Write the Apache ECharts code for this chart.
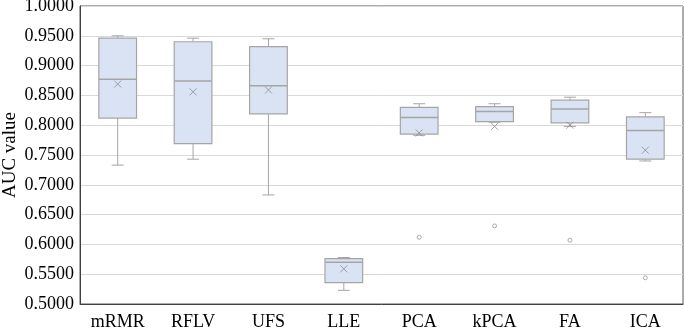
<!DOCTYPE html>
<html>
<head>
<meta charset="utf-8">
<script src="https://cdn.jsdelivr.net/npm/echarts@6/dist/echarts.min.js"></script>
<style>
  html, body { margin: 0; padding: 0; background: #fff; }
  #chart { width: 685px; height: 328px; }
</style>
</head>
<body>
<div id="chart"></div>
<script>
// categories and box statistics
const categories = ['mRMR', 'RFLV', 'UFS', 'LLE', 'PCA', 'kPCA', 'FA', 'ICA'];
const whiskerLow = [0.733, 0.743, 0.683, 0.523, 0.783, 0.805, 0.798, 0.740];
const q1 = [0.812, 0.769, 0.819, 0.536, 0.785, 0.806, 0.804, 0.743];
const median = [0.877, 0.874, 0.866, 0.570, 0.813, 0.823, 0.827, 0.791];
const q3 = [0.946, 0.940, 0.932, 0.576, 0.830, 0.831, 0.842, 0.814];
const whiskerHigh = [0.950, 0.946, 0.945, 0.578, 0.836, 0.836, 0.847, 0.821];
const means = [0.869, 0.856, 0.859, 0.559, 0.787, 0.798, 0.800, 0.758];
// outliers: [category index, value]
const outliers = [[4, 0.612], [5, 0.631], [6, 0.607], [7, 0.544]];

const boxColor = '#dae3f3';
const lineColor = '#a5a5a5';

const boxData = categories.map((c, i) => [i, whiskerLow[i], q1[i], median[i], q3[i], whiskerHigh[i]]);

function renderBox(params, api) {
  const idx = api.value(0);
  const bw = api.size([1, 0])[0] * 0.5;
  const capW = 12;
  const low = api.coord([idx, api.value(1)]);
  const b = api.coord([idx, api.value(2)]);
  const m = api.coord([idx, api.value(3)]);
  const t = api.coord([idx, api.value(4)]);
  const high = api.coord([idx, api.value(5)]);
  const x = low[0];
  const ls = { stroke: lineColor, lineWidth: 1 };
  return {
    type: 'group',
    children: [
      { type: 'line', shape: { x1: x, y1: high[1], x2: x, y2: t[1] }, style: ls },
      { type: 'line', shape: { x1: x, y1: low[1], x2: x, y2: b[1] }, style: ls },
      { type: 'line', shape: { x1: x - capW / 2, y1: high[1], x2: x + capW / 2, y2: high[1] }, style: ls },
      { type: 'line', shape: { x1: x - capW / 2, y1: low[1], x2: x + capW / 2, y2: low[1] }, style: ls },
      {
        type: 'rect',
        shape: { x: x - bw / 2, y: t[1], width: bw, height: b[1] - t[1] },
        style: { fill: boxColor, stroke: lineColor, lineWidth: 1.2 }
      },
      { type: 'line', shape: { x1: x - bw / 2, y1: m[1], x2: x + bw / 2, y2: m[1] }, style: { stroke: lineColor, lineWidth: 1.5 } }
    ]
  };
}

const chart = echarts.init(document.getElementById('chart'));
chart.setOption({
  animation: false,
  backgroundColor: '#fff',
  grid: {
    left: 80, right: 2, top: 6, bottom: 24,
    containLabel: false,
    outerBoundsMode: 'none',
    show: true, borderColor: '#595959', borderWidth: 1
  },
  xAxis: {
    type: 'category',
    data: categories,
    axisTick: { show: false },
    axisLine: { lineStyle: { color: '#404040' } },
    axisLabel: { color: '#000', fontFamily: 'Liberation Serif', fontSize: 18, margin: 9 }
  },
  yAxis: {
    type: 'value',
    min: 0.5,
    max: 1.0,
    interval: 0.05,
    name: 'AUC value',
    nameLocation: 'middle',
    nameGap: 60,
    nameMoveOverlap: false,
    nameTextStyle: { color: '#000', fontFamily: 'Liberation Serif', fontSize: 19 },
    axisLine: { show: true, lineStyle: { color: '#404040' } },
    axisTick: { show: false },
    axisLabel: {
      color: '#000', fontFamily: 'Liberation Serif', fontSize: 18, margin: 6,
      formatter: v => v.toFixed(4)
    },
    splitLine: { lineStyle: { color: '#d9d9d9' } }
  },
  series: [
    {
      type: 'custom',
      renderItem: renderBox,
      data: boxData,
      encode: { x: 0, y: [1, 2, 3, 4, 5] },
      z: 2
    },
    {
      type: 'scatter',
      data: means.map((v, i) => [i, v]),
      symbol: 'path://M0,0L10,10M10,0L0,10',
      symbolSize: 7,
      itemStyle: { color: 'none', borderColor: '#8c8c8c', borderWidth: 1 },
      z: 3
    },
    {
      type: 'scatter',
      data: outliers,
      symbol: 'circle',
      symbolSize: 4,
      itemStyle: { color: '#fff', borderColor: '#999', borderWidth: 1 },
      z: 3
    }
  ]
});
</script>
</body>
</html>
